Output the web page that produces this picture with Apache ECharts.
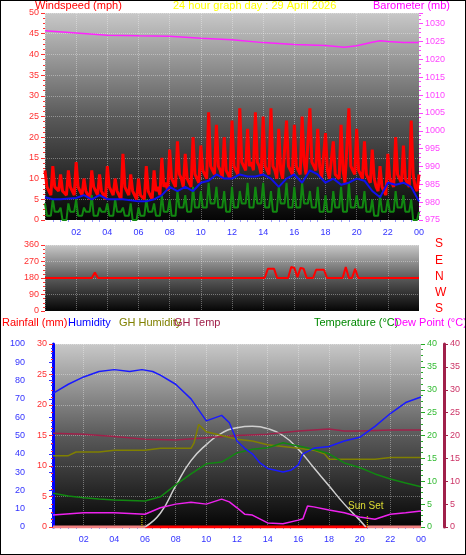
<!DOCTYPE html>
<html><head><meta charset="utf-8">
<script src="https://cdn.jsdelivr.net/npm/echarts@6/dist/echarts.min.js"></script>
<style>html,body{margin:0;padding:0;background:#fff}#c{width:464px;height:553px;border:1px solid #000}</style>
</head><body><div id="c"></div>
<script>
// ---- data ----
const hourTicks = [0,2,4,6,8,10,12,14,16,18,20,22,24];
const gust = [12,7,13,8,11,7,12,8, 14,7,10,6,12,8,11,6, 13,8,10,6,16,7,11,7, 10,6,13,7,12,8,15,9,
 17,9,19,10,16,9,20,11, 18,12,26,13,23,12,20,11, 24,12,27,13,22,14,26,13, 25,12,27,12,22,10,24,13,
 23,12,25,11,27,13,22,10, 21,10,19,11,23,9,27,12, 22,11,19,10,17,8,13,7, 16,9,20,10,18,9,24,8, 11];
const lull = [8,6,8,7,7,6,8,6, 8,6,7,5,8,6,7,5, 8,6,7,5,8,6,7,5, 6,5,7,5,7,6,8,7,
 10,8,11,8,10,8,11,9, 12,10,13,11,13,10,12,10, 13,11,14,12,13,12,14,11, 13,11,13,10,12,10,13,11,
 13,11,14,11,14,12,13,10, 12,10,11,10,12,9,13,11, 12,10,11,9,10,7,8,6, 10,8,11,9,10,8,11,7, 6];
const speed = [4,1,5,2,3,0,4,2, 5,1,3,2,6,1,3,2, 4,1,5,2,3,1,4,0, 3,1,5,2,4,1,6,2,
 5,1,7,3,6,2,8,3, 7,3,9,4,8,3,7,2, 8,3,7,4,9,3,8,4, 9,3,7,2,8,4,9,3,
 8,3,9,4,7,3,8,2, 6,2,7,3,8,2,9,3, 6,3,7,2,5,1,6,2, 5,2,7,3,6,2,5,0, 2];
const avgHours = [0,0.5,1,2,2.5,3,3.5,4,5,6,6.5,7,7.5,8,8.5,9,9.5,10,10.5,11,11.5,12,12.5,13,13.5,14,14.5,15,15.5,16,16.5,17,17.5,18,18.5,19,19.5,20,20.5,21,21.5,22,22.5,23,23.5,24];
const avgWind = [5.5,5,5,5.3,6,5,6,5,5,4.5,4.5,5,6,8,7,8,7,9,9.5,11,10,10,11,10.5,10.5,11,10,8,10,11,9,12,11,9,10,8.5,9,10,9.5,7,5.5,9,8.5,9,8,4.5];
const baroHours = [0,2,4,6,8,10,12,14,16,18,19.2,20,21,21.5,22,23,24];
const baro = [1028,1027.4,1026.8,1026.6,1026.5,1025.9,1025.5,1024.7,1024.2,1023.9,1023.4,1023.8,1024.8,1025.2,1025,1024.7,1024.7];
const dirHours = [0,3,3.2,3.4,14.1,14.3,14.7,14.9,15.6,15.8,16.0,16.2,16.4,16.6,16.8,17.2,17.4,17.9,18.1,19.1,19.3,19.5,19.7,19.9,20.1,24];
const dir = [180,180,210,180,180,230,230,180,180,240,235,185,235,230,180,180,225,225,180,180,240,180,180,230,180,180];
const humHours = [0,1,2,3,4,5,5.8,6.5,7,8,9,10,11,11.5,12,12.5,13,13.5,14,15,15.5,16,16.3,17,18,19,20,21,22,23,24];
const hum = [73,78,82,85,86,85,86,85,83,78,70,58,61,57,47,43,40,35,32,30,31,34,40,43,44,47,49,55,62,68,71];
const ghHumHours = [0,1,1.5,3,4,6,7,9,9.2,9.5,10,11,12,13,14,15,16,17,17.7,18,19,20,21,22,23,24];
const ghHum = [39,39,41,41,42,42,43,43,46,56,52,50,48,47,45,44,43,42,40,37,37,37,37,38,38,38];
const ghTempHours = [0,2,4,6,8,10,12,14,16,18,19,20,22,24];
const ghTemp = [20.5,20.3,19.8,19.2,19,19.5,20,20.3,21,21.4,21,21,21.2,21.2];
const tempHours = [0,1,2,3,4,5,6,7,8,9,10,11,12,13,14,15,16,17,18,19,20,21,22,23,24];
const temp = [7.4,6.8,6.4,6.1,5.9,5.8,5.7,6.6,9.2,11.6,13.8,14.2,16.2,17,17.3,18.4,17.7,17,16,14,13,11.6,10.5,9.6,8.8];
const dewHours = [0,2,4,6,7,8,9,10,11,11.5,12,12.5,13,14,15,16,16.3,16.6,17,18,19,20,21,22,23,24];
const dew = [2.6,3.1,3.1,2.8,4.2,5,5.4,5,6.1,5.5,4.2,2.8,2.6,0.9,0.7,1.5,1.8,4.6,4.4,3.7,3.1,2.2,1.7,2.8,3.1,3.5];
const solarHours = [6,7,8,9,10,11,12,13,14,15,16,17,18,19,20,20.4];
const solar = [0,3,9,14.5,18,20.5,21.7,22,21.5,20,17,13,9,5,1.5,0];
const rainDay = [[6,0],[20.5,0]];
const rainNight = [[0,0],[6,0],null,[20.5,0],[24,0]];
const sunrise = 5.8, sunset = 20.5;

const pair = (h, v) => h.map((x, i) => [x, v[i]]);
const zig = (hi, lo) => { const out = []; hi.forEach((y, i) => { out.push([i / 4, y]); if (i < hi.length - 1) out.push([i / 4 + 0.125, lo[i]]); }); return out; };

const bg = {type:'linear',x:0,y:0,x2:0,y2:1,colorStops:[{offset:0,color:'#c8c8c8'},{offset:0.5,color:'#5a5a5a'},{offset:1,color:'#050505'}]};
const grids = [
  {left:44, top:12, width:374, height:207, show:true, backgroundColor:bg, borderWidth:0},
  {left:44, top:244, width:374, height:66, show:true, backgroundColor:bg, borderWidth:0},
  {left:52, top:343, width:368, height:183, show:true, backgroundColor:bg, borderWidth:0}
];
const FF = 'Liberation Sans';
const splitL = {show:true, lineStyle:{color:'rgba(255,255,255,0.35)', type:'dotted'}};
const xa = (gi, show) => ({type:'value', gridIndex:gi, min:0, max:24, interval:2,
  axisLine:{show:false}, axisTick:{show:false}, minorTick:{show:show, splitNumber:4, length:2, lineStyle:{color:'#9999ff'}},
  splitLine:splitL,
  axisLabel:{show:show, color:'#3333ff', fontSize:9, fontFamily:FF, margin:8,
    formatter:v => v===0 ? '' : String(v%24).padStart(2,'0')}});
const ya = (gi, pos, min, max, iv, color, extra) => Object.assign({type:'value', gridIndex:gi, position:pos, min, max, interval:iv,
  axisLine:{show:false}, axisTick:{show:true, length:4, lineStyle:{color}},
  minorTick:{show:true, splitNumber:4, length:2, lineStyle:{color}},
  splitLine:{show:false},
  axisLabel:{color, fontSize:9, fontFamily:FF, margin:6, formatter:v => String(v)}}, extra||{});

const yAxis = [
  ya(0,'left',0,50,5,'#ff3030',{splitLine:splitL}),
  ya(0,'right',975,1033,5,'#ff44ff',{axisLabel:{color:'#ff44ff', fontSize:9, fontFamily:FF, margin:6, showMaxLabel:false, formatter:v => String(v)}}),
  ya(1,'left',0,360,90,'#ff3030',{splitLine:splitL}),
  ya(2,'left',0,100,10,'#3333ff',{offset:22, axisLine:{show:true, lineStyle:{color:'#0000ff', width:3}}}),
  ya(2,'left',0,30,5,'#ff3030',{splitLine:splitL}),
  ya(2,'right',0,40,5,'#22aa22',{axisLabel:{color:'#33bb33', fontSize:9, fontFamily:FF, margin:6}}),
  ya(2,'right',0,40,5,'#a0204a',{offset:23, axisLine:{show:true, lineStyle:{color:'#a0204a', width:3}}, axisLabel:{color:'#cc3366', fontSize:9, fontFamily:FF, margin:6}})
];
const ln = (name, xi, yi, data, color, w, extra) => Object.assign({name, type:'line', xAxisIndex:xi, yAxisIndex:yi, data,
  symbol:'none', lineStyle:{color, width:w||1.5}, itemStyle:{color}, animation:false}, extra||{});

const series = [
  ln('gust',0,0,zig(gust,lull),'#ff0000',3),
  ln('speed',0,0,zig(speed,speed.map((v,i)=>speed[i+1]===undefined?v:Math.min(v,speed[i+1]))),'#118811',2),
  ln('avg',0,0,pair(avgHours,avgWind),'#1010ee',2),
  ln('baro',0,1,pair(baroHours,baro),'#ff22ff',1.5),
  ln('dir',1,2,pair(dirHours,dir),'#ff0000',2),
  ln('rainNight',2,4,rainNight,'#f08080',3),
  ln('rainDay',2,4,rainDay,'#ff0000',3),
  ln('solar',2,5,pair(solarHours,solar),'#d0d0d0',1.5,{smooth:true}),
  ln('ghTemp',2,6,pair(ghTempHours,ghTemp),'#a0204a',1.5),
  ln('ghHum',2,3,pair(ghHumHours,ghHum),'#808000',1.5),
  ln('temp',2,5,pair(tempHours,temp),'#118811',1.5),
  ln('dew',2,5,pair(dewHours,dew),'#ee22ee',1.5),
  ln('hum',2,3,pair(humHours,hum),'#1a1aff',1.5),
  ln('sunlines',2,5,[[sunrise,0],[sunrise,2.5],null,[sunset,0],[sunset,2.5]],'#dddd00',1,{lineStyle:{color:'#dddd00',width:1,type:'dotted'}})
];

const T = (x, y, text, color, size, extra) => Object.assign({type:'text', left:x, top:y, style:{text, fill:color, fontSize:size||11, fontFamily:FF}}, extra||{});
const graphic = [
  T(34,-1,'Windspeed (mph)','#ff0000'),
  T(172,-1,'24 hour graph day : 29 April 2026','#ffff00'),
  T(372,-1,'Barometer (mb)','#ff00ff'),
  T(1,316,'Rainfall (mm)','#ff0000'),
  T(67,316,'Humidity','#0000ff'),
  T(118,316,'GH Humidity','#808000'),
  T(173,316,'GH Temp','#a0204a'),
  T(313,316,'Temperature (°C)','#008800'),
  T(393,316,'Dew Point (°C)','#ff00ff'),
  T(434,237,'S','#ff0000',12), T(434,254,'E','#ff0000',12), T(434,270,'N','#ff0000',12),
  T(434,286,'W','#ff0000',12), T(434,302,'S','#ff0000',12),
  T(347,500,'Sun Set','#dddd33',10)
];

const chart = echarts.init(document.getElementById('c'), null, {renderer:'canvas'});
chart.setOption({animation:false, grid:grids,
  xAxis:[xa(0,true), xa(1,false), xa(2,true)], yAxis, series, graphic});
</script></body></html>
